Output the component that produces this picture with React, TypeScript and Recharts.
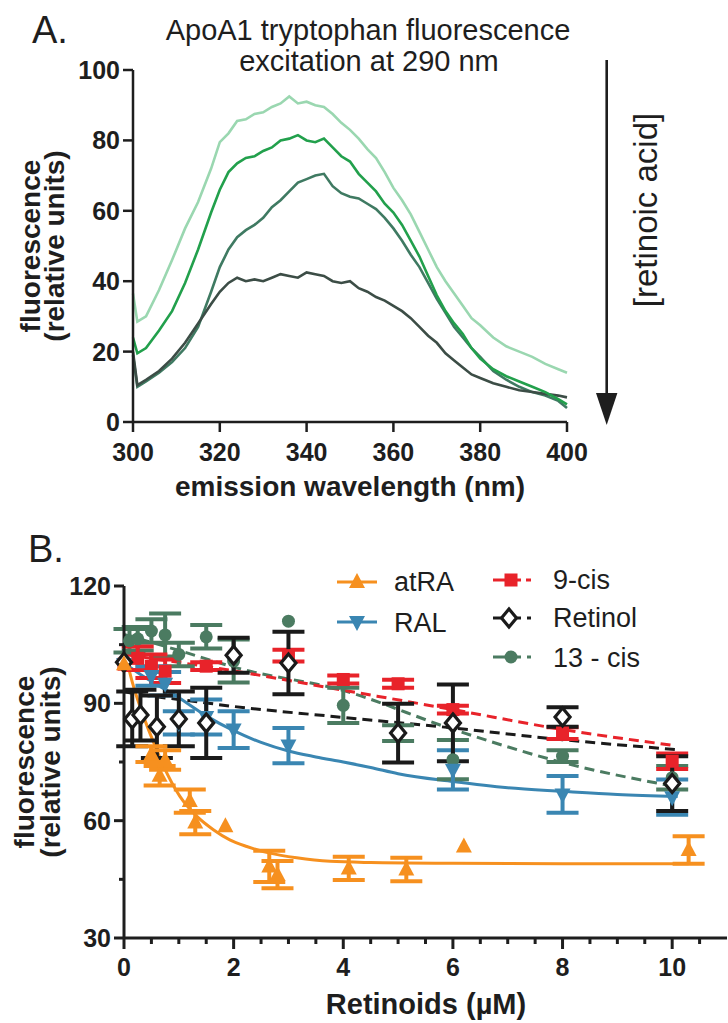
import React from 'react';
import { LineChart, Line, XAxis, YAxis, ComposedChart, Scatter, ErrorBar } from 'recharts';

const FONT = '"Liberation Sans", Arial, Helvetica, sans-serif';
const INK = '#1e1e1e';

// ---------------- Panel A : tryptophan emission spectra ----------------
const wavelengthNm = [300, 301, 303, 306, 309, 312, 315, 318,
  320, 322, 324, 326, 328, 330, 332, 334, 336, 338, 340, 342, 344, 346, 348, 350,
  352, 354, 356, 358, 360, 362, 364, 366, 368, 370, 372, 374, 376, 378, 380,
  383, 386, 389, 392, 395, 398, 400];
const spectrum0 = [36.5, 28.5, 30, 37.5, 46, 55, 62.5, 72,
  79.5, 82, 85.5, 86, 87.5, 88, 89.5, 90.5, 92.5, 90.5, 91, 90, 89.5, 87.5, 85, 83,
  80.5, 77.5, 75, 71, 66.5, 63, 59, 54, 49, 44, 40, 36.5, 33, 29.5, 27.5,
  24, 21.5, 20, 18.5, 16.5, 15, 14];
const spectrum1 = [24, 19.5, 21, 26, 31.5, 39.5, 49, 59.5,
  66, 71, 73.5, 75, 75.5, 77, 78, 80, 80.5, 81.5, 80, 79.5, 80.5, 78, 75.5, 74,
  70.5, 68, 65.5, 62, 59.5, 56, 51.5, 47, 41.5, 36, 31.5, 28, 25, 21, 18,
  15, 13, 11.5, 10, 8.5, 6.5, 5];
const spectrum2 = [19, 10, 11.5, 14, 17, 21, 27, 37,
  44, 49, 52.5, 54.5, 56, 58, 61, 63, 65.5, 68, 69, 70, 70.5, 67, 65, 64,
  63.5, 62, 60.5, 58, 55, 51.5, 47.5, 44, 39.5, 35, 31, 27, 24, 21, 18.5,
  14.5, 12, 10, 8.5, 7.5, 6, 4];
const spectrum3 = [20, 10.5, 12, 14.5, 18, 22.5, 28, 33.5,
  37, 39.5, 41, 40, 40.5, 40, 41, 42, 41.5, 41, 42.5, 42, 41.5, 40, 39.5, 40,
  38, 37, 35.5, 34.5, 33, 31.5, 29.5, 27, 24.5, 22.5, 19.5, 17.5, 15.5, 13.5, 12.5,
  11, 10, 9, 8.5, 8, 7.5, 7];
const spectrumColors = ['#9ad7b0', '#22a04c', '#3f7a62', '#3c4d46'];
const xTicksA = [300, 320, 340, 360, 380, 400];
const yTicksA = [0, 20, 40, 60, 80, 100];

const dataA = wavelengthNm.map((w, i) => ({
  w, s0: spectrum0[i], s1: spectrum1[i], s2: spectrum2[i], s3: spectrum3[i],
}));

// ---------------- Panel B : retinoid titration ----------------
const atraX = [0, 0.5, 0.65, 0.75, 1.2, 1.3, 1.85, 2.65, 2.8, 4.1, 5.15, 6.2, 10.3];
const atraY = [100, 77, 71.5, 75.5, 65, 59.5, 58.6, 48.3, 46.2, 47.8, 47.5, 53.4, 52.5];
const atraErr = [0, 2, 2.5, 2.5, 3, 3, 0, 4, 3.5, 3, 3, 0, 3.5];
const atraFitX = [0, 0.15, 0.4, 0.57, 0.72, 1.02, 1.33, 1.63, 1.93, 2.24, 2.66, 3.15, 3.76, 4.5, 6, 8, 10.3];
const atraFitY = [104, 95.5, 85, 79, 74, 66.2, 61.1, 57.7, 55.1, 53.4, 51.7, 50.5, 49.6, 49.3, 49.1, 49, 49];

const ralX = [0, 0.5, 0.75, 1, 1.5, 2, 3, 6, 8, 10];
const ralY = [100, 97, 95, 85, 86.5, 83.3, 79.2, 73, 66.7, 66];
const ralErr = [0, 2.5, 3, 3, 4.5, 4.7, 4.5, 5, 4.7, 4.5];
const ralFitX = [0, 0.35, 0.96, 1.5, 2, 2.5, 3, 3.5, 4, 4.5, 5, 6, 7, 8, 9, 10.1];
const ralFitY = [100.3, 96.9, 91.8, 86.8, 83, 80, 77.8, 76.3, 75, 73.6, 72, 70, 68.4, 67.5, 66.7, 66.2];

const cis9X = [0, 0.25, 0.5, 0.75, 1.5, 3, 4, 5, 6, 8, 10];
const cis9Y = [100, 101.5, 99.5, 98.2, 99.5, 102.2, 96.1, 95, 88.4, 82.4, 75.2];
const cis9Err = [0, 3, 3, 3, 1, 1.5, 1, 1, 1, 1.5, 2];
const cis9FitX = [0, 2, 3.94, 6, 8, 10.05];
const cis9FitY = [102.5, 98.3, 93.5, 88.4, 83.3, 79.2];

const retinolX = [0, 0.15, 0.3, 0.6, 1, 1.5, 2, 3, 5, 6, 8, 10];
const retinolY = [100.5, 86, 87, 84, 86, 85, 102.3, 100.3, 82.4, 85, 86.5, 69.5];
const retinolErr = [0, 7, 6.5, 8, 7, 9, 4.5, 8, 7.5, 9.8, 2.5, 7];
const retinolFitX = [0, 0.5, 1, 2, 4, 6, 8, 10.05];
const retinolFitY = [93, 91.8, 91, 89.2, 86.4, 83.7, 80.7, 78.2];

const cis13X = [0, 0.1, 0.25, 0.5, 0.75, 1, 1.5, 2, 3, 4, 5, 6, 8, 10];
const cis13Y = [100, 106, 106.5, 108.5, 107.5, 102.5, 107, 100.8, 111, 89.5, 82.4, 75.6, 76.5, 71];
const cis13Err = [0, 3, 3, 3, 5.5, 3, 3, 5.5, 0, 4.5, 2, 5, 1.5, 3];
const cis13FitX = [0, 0.96, 2.18, 3.94, 6.01, 8.02, 10.02];
const cis13FitY = [107.6, 103.7, 98.6, 93.5, 83.3, 74.8, 68.8];

const xTicksB = [0, 0.5, 1, 1.5, 2, 2.5, 3, 3.5, 4, 4.5, 5, 5.5, 6, 6.5, 7, 7.5, 8, 8.5, 9, 9.5, 10, 10.5];
const yTicksB = [30, 45, 60, 75, 90, 105, 120];

const ORANGE = '#f6901f';
const BLUE = '#3a86b2';
const RED = '#e8232a';
const BLACK = '#1a1a1a';
const GREEN = '#4b7b61';

const pts = (xs: number[], ys: number[], es?: number[]) =>
  xs.map((x, i) => ({ x, y: ys[i], err: es ? es[i] : 0 }));

// ---------------- marker shapes ----------------
const TriUp = (cx: number, cy: number, c: string) => (
  <polygon points={`${cx},${cy - 9} ${cx - 8},${cy + 6} ${cx + 8},${cy + 6}`} fill={c} />
);
const TriDown = (cx: number, cy: number, c: string) => (
  <polygon points={`${cx},${cy + 9} ${cx - 8},${cy - 6} ${cx + 8},${cy - 6}`} fill={c} />
);
const Sq = (cx: number, cy: number, c: string) => (
  <rect x={cx - 6.5} y={cy - 6.5} width={13} height={13} fill={c} />
);
const Dia = (cx: number, cy: number, c: string) => (
  <polygon points={`${cx},${cy - 9} ${cx + 7.5},${cy} ${cx},${cy + 9} ${cx - 7.5},${cy}`}
    fill="#ffffff" stroke={c} strokeWidth={3.2} />
);
const Circ = (cx: number, cy: number, c: string) => <circle cx={cx} cy={cy} r={6.5} fill={c} />;

// ---------------- tick renderers ----------------
const TickAX = (p: any) => (
  <g>
    <line x1={p.x} y1={p.y} x2={p.x} y2={p.y + 10} stroke={INK} strokeWidth={2.5} />
    <text x={p.x} y={p.y + 39} textAnchor="middle" fontFamily={FONT} fontWeight="bold" fontSize={25} fill={INK}>
      {p.payload.value}
    </text>
  </g>
);
const TickAY = (p: any) => (
  <g>
    <line x1={p.x - 10} y1={p.y} x2={p.x} y2={p.y} stroke={INK} strokeWidth={2.5} />
    <text x={p.x - 13} y={p.y + 9} textAnchor="end" fontFamily={FONT} fontWeight="bold" fontSize={25} fill={INK}>
      {p.payload.value}
    </text>
  </g>
);
const TickBX = (p: any) => {
  const v = p.payload.value;
  const major = Math.abs(v % 2) < 1e-9;
  return (
    <g>
      <line x1={p.x} y1={p.y} x2={p.x} y2={p.y + (major ? 11 : 6)} stroke={INK} strokeWidth={3} />
      {major && (
        <text x={p.x} y={p.y + 38} textAnchor="middle" fontFamily={FONT} fontWeight="bold" fontSize={25} fill={INK}>
          {v}
        </text>
      )}
    </g>
  );
};
const TickBY = (p: any) => {
  const v = p.payload.value;
  const major = (v - 30) % 30 === 0;
  return (
    <g>
      <line x1={p.x - (major ? 10 : 5)} y1={p.y} x2={p.x} y2={p.y} stroke={INK} strokeWidth={3} />
      {major && (
        <text x={p.x - 13} y={p.y + 9} textAnchor="end" fontFamily={FONT} fontWeight="bold" fontSize={25} fill={INK}>
          {v}
        </text>
      )}
    </g>
  );
};

const txt = { fontFamily: FONT, fill: INK } as const;

export default function App() {
  return (
    <div style={{ position: 'absolute', left: 0, top: 0, width: 728, height: 1023, background: '#fff', overflow: 'hidden' }}>
      <div style={{ position: 'absolute', left: 0, top: 0 }}>
        <LineChart width={728} height={510} data={dataA} margin={{ top: 70, right: 161, bottom: 28, left: 0 }}>
          <XAxis dataKey="w" type="number" domain={[300, 400]} ticks={xTicksA} interval={0} height={60}
            tickLine={false} tickSize={0} tickMargin={0} axisLine={{ stroke: INK, strokeWidth: 2.5 }}
            tick={(p: any) => <TickAX {...p} />} />
          <YAxis type="number" domain={[0, 100]} ticks={yTicksA} interval={0} width={133}
            tickLine={false} tickSize={0} tickMargin={0} axisLine={{ stroke: INK, strokeWidth: 2.5 }}
            tick={(p: any) => <TickAY {...p} />} />
          <Line type="linear" dataKey="s0" stroke={spectrumColors[0]} strokeWidth={2.6} dot={false} isAnimationActive={false} />
          <Line type="linear" dataKey="s2" stroke={spectrumColors[2]} strokeWidth={2.6} dot={false} isAnimationActive={false} />
          <Line type="linear" dataKey="s3" stroke={spectrumColors[3]} strokeWidth={2.6} dot={false} isAnimationActive={false} />
          <Line type="linear" dataKey="s1" stroke={spectrumColors[1]} strokeWidth={2.6} dot={false} isAnimationActive={false} />
        </LineChart>
      </div>

      <div style={{ position: 'absolute', left: 0, top: 520 }}>
        <ComposedChart width={728} height={503} margin={{ top: 66, right: 1, bottom: 25, left: 0 }}>
          <XAxis dataKey="x" type="number" domain={[0, 11]} ticks={xTicksB} interval={0} height={60}
            tickLine={false} tickSize={0} tickMargin={0} axisLine={{ stroke: INK, strokeWidth: 3 }}
            tick={(p: any) => <TickBX {...p} />} />
          <YAxis dataKey="y" type="number" domain={[30, 120]} ticks={yTicksB} interval={0} width={124}
            tickLine={false} tickSize={0} tickMargin={0} axisLine={{ stroke: INK, strokeWidth: 3 }}
            tick={(p: any) => <TickBY {...p} />} />

          <Line data={pts(cis13FitX, cis13FitY)} type="monotone" dataKey="y" stroke={GREEN} strokeWidth={3}
            strokeDasharray="10 6" dot={false} isAnimationActive={false} />
          <Line data={pts(cis9FitX, cis9FitY)} type="monotone" dataKey="y" stroke={RED} strokeWidth={3}
            strokeDasharray="10 6" dot={false} isAnimationActive={false} />
          <Line data={pts(retinolFitX, retinolFitY)} type="monotone" dataKey="y" stroke={BLACK} strokeWidth={3}
            strokeDasharray="10 6" dot={false} isAnimationActive={false} />
          <Line data={pts(ralFitX, ralFitY)} type="monotone" dataKey="y" stroke={BLUE} strokeWidth={3}
            dot={false} isAnimationActive={false} />
          <Line data={pts(atraFitX, atraFitY)} type="monotone" dataKey="y" stroke={ORANGE} strokeWidth={3}
            dot={false} isAnimationActive={false} />

          <Scatter data={pts(cis13X, cis13Y, cis13Err)} isAnimationActive={false}
            shape={(p: any) => Circ(p.cx, p.cy, GREEN)}>
            <ErrorBar dataKey="err" direction="y" width={16} stroke={GREEN} strokeWidth={4} isAnimationActive={false} />
          </Scatter>
          <Scatter data={pts(cis9X, cis9Y, cis9Err)} isAnimationActive={false}
            shape={(p: any) => Sq(p.cx, p.cy, RED)}>
            <ErrorBar dataKey="err" direction="y" width={16} stroke={RED} strokeWidth={4} isAnimationActive={false} />
          </Scatter>
          <Scatter data={pts(ralX, ralY, ralErr)} isAnimationActive={false}
            shape={(p: any) => TriDown(p.cx, p.cy, BLUE)}>
            <ErrorBar dataKey="err" direction="y" width={16} stroke={BLUE} strokeWidth={4} isAnimationActive={false} />
          </Scatter>
          <Scatter data={pts(retinolX, retinolY, retinolErr)} isAnimationActive={false}
            shape={(p: any) => Dia(p.cx, p.cy, BLACK)}>
            <ErrorBar dataKey="err" direction="y" width={16} stroke={BLACK} strokeWidth={4} isAnimationActive={false} />
          </Scatter>
          <Scatter data={pts(atraX, atraY, atraErr)} isAnimationActive={false}
            shape={(p: any) => TriUp(p.cx, p.cy, ORANGE)}>
            <ErrorBar dataKey="err" direction="y" width={16} stroke={ORANGE} strokeWidth={4} isAnimationActive={false} />
          </Scatter>
        </ComposedChart>
      </div>

      <svg width={728} height={1023} style={{ position: 'absolute', left: 0, top: 0, pointerEvents: 'none' }}>
        {/* Panel A texts */}
        <text x={32} y={43} fontSize={38} {...txt}>A.</text>
        <text x={368} y={40} fontSize={29} textAnchor="middle" {...txt}>ApoA1 tryptophan fluorescence</text>
        <text x={369} y={71} fontSize={29} textAnchor="middle" {...txt}>excitation at 290 nm</text>
        <text transform="translate(40,246) rotate(-90)" fontSize={28} fontWeight="bold" textAnchor="middle" {...txt}>fluorescence</text>
        <text transform="translate(64,246) rotate(-90)" fontSize={28} fontWeight="bold" textAnchor="middle" {...txt}>(relative units)</text>
        <text x={350} y={496} fontSize={28} fontWeight="bold" textAnchor="middle" {...txt}>emission wavelength (nm)</text>
        <line x1={606.7} y1={60} x2={606.7} y2={396} stroke={INK} strokeWidth={2.6} />
        <polygon points="596,393 617.4,393 606.7,425" fill={INK} />
        <text transform="translate(657,210) rotate(-90)" fontSize={33} textAnchor="middle" {...txt}>[retinoic acid]</text>

        {/* Panel B texts */}
        <text x={28} y={562} fontSize={38} {...txt}>B.</text>
        <text transform="translate(34,762) rotate(-90)" fontSize={28} fontWeight="bold" textAnchor="middle" {...txt}>fluorescence</text>
        <text transform="translate(60,762) rotate(-90)" fontSize={28} fontWeight="bold" textAnchor="middle" {...txt}>(relative units)</text>
        <text x={426} y={1014} fontSize={29} fontWeight="bold" textAnchor="middle" {...txt}>Retinoids (µM)</text>

        {/* Legend */}
        <line x1={337} y1={582} x2={377} y2={582} stroke={ORANGE} strokeWidth={3} />
        {TriUp(357, 582, ORANGE)}
        <text x={394} y={591} fontSize={27} {...txt}>atRA</text>
        <line x1={337} y1={622} x2={377} y2={622} stroke={BLUE} strokeWidth={3} />
        {TriDown(357, 622, BLUE)}
        <text x={394} y={632} fontSize={27} {...txt}>RAL</text>

        <line x1={493} y1={580} x2={521} y2={580} stroke={RED} strokeWidth={3} />
        <line x1={526} y1={580} x2={531} y2={580} stroke={RED} strokeWidth={3} />
        {Sq(511, 580, RED)}
        <text x={553} y={589} fontSize={27} {...txt}>9-cis</text>
        <line x1={493} y1={618} x2={521} y2={618} stroke={BLACK} strokeWidth={3} />
        <line x1={527} y1={618} x2={531} y2={618} stroke={BLACK} strokeWidth={3} />
        {Dia(509, 618, BLACK)}
        <text x={553} y={627} fontSize={27} {...txt}>Retinol</text>
        <line x1={493} y1={657} x2={521} y2={657} stroke={GREEN} strokeWidth={3} />
        <line x1={527} y1={657} x2={531} y2={657} stroke={GREEN} strokeWidth={3} />
        {Circ(511, 657, GREEN)}
        <text x={553} y={667} fontSize={27} {...txt}>13 - cis</text>
      </svg>
    </div>
  );
}
